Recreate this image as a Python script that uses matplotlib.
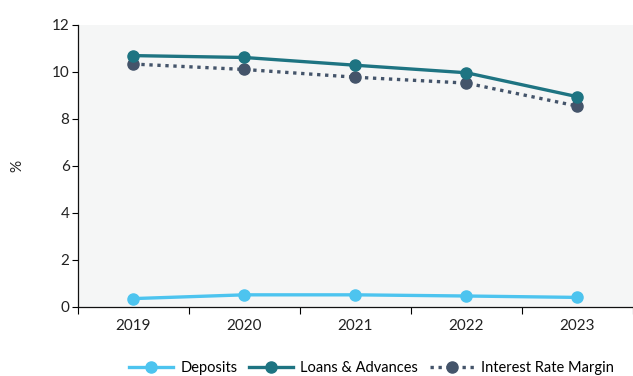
import matplotlib
matplotlib.use("Agg")
import matplotlib.pyplot as plt

plt.rcParams['font.family'] = ['Lato', 'DejaVu Sans']

years = ["2019", "2020", "2021", "2022", "2023"]
deposits = [0.35, 0.51, 0.51, 0.46, 0.40]
loans_advances = [10.69, 10.61, 10.28, 9.96, 8.94]
interest_rate_margin = [10.33, 10.10, 9.77, 9.52, 8.54]

c_dep = "#4DC4EF"
c_loan = "#1E7482"
c_irm = "#44546A"

fig = plt.figure(figsize=(6.33, 3.76), dpi=100)
fig.patch.set_facecolor("white")
ax = fig.add_axes([0.123, 0.184, 0.877, 0.75])
ax.set_facecolor("#F5F6F6")

x = list(range(len(years)))
ax.plot(x, deposits, color=c_dep, lw=2.4, marker="o", ms=8, label="Deposits", zorder=3)
ax.plot(x, loans_advances, color=c_loan, lw=2.4, marker="o", ms=8, label="Loans & Advances", zorder=4)
ax.plot(x, interest_rate_margin, color=c_irm, lw=2.4, marker="o", ms=8,
        linestyle=(0, (1, 1.4)), label="Interest Rate Margin", zorder=3)

ax.set_xlim(-0.5, len(years) - 0.5)
ax.set_ylim(0, 12)
ax.set_yticks(range(0, 13, 2))
ax.set_xticks(x)
ax.set_xticklabels(years)
ax.set_xticks([i - 0.5 for i in range(len(years) + 1)], minor=True)
ax.tick_params(axis="x", which="major", length=0, pad=9, labelsize=11, labelcolor="#222222")
ax.tick_params(axis="x", which="minor", length=5, width=0.8, direction="out")
ax.tick_params(axis="y", length=4, width=0.8, labelsize=11, labelcolor="#222222", pad=2)

for s in ("top", "right"):
    ax.spines[s].set_visible(False)
for s in ("left", "bottom"):
    ax.spines[s].set_linewidth(0.9)
    ax.spines[s].set_color("#111111")

fig.text(0.027, 0.56, "%", rotation=90, ha="center", va="center", fontsize=11, color="#222222")

fig.legend(loc="center", bbox_to_anchor=(0.587, 0.022), ncol=3, frameon=False,
           fontsize=10.5, handlelength=3.0, handletextpad=0.5, columnspacing=0.8)

fig.savefig("out.png", dpi=100)
